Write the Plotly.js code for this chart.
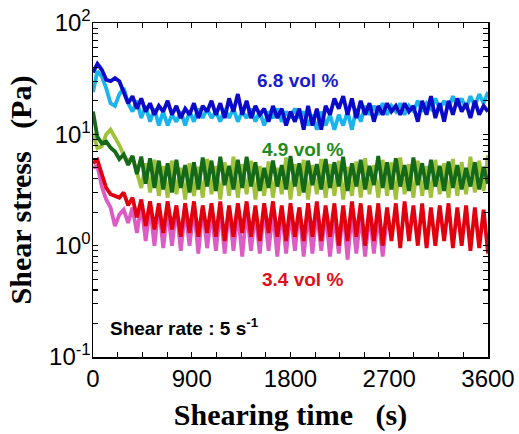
<!DOCTYPE html>
<html>
<head>
<meta charset="utf-8">
<script src="https://cdn.plot.ly/plotly-3.0.1.min.js"></script>
<style>html,body{margin:0;padding:0;background:#fff;}#chart{width:519px;height:434px;}</style>
</head>
<body>
<div id="chart"></div>
<script>
// Shearing time (s)
const time_s = [
0,40,80,120,160,200,240,280,320,360,
400,440,480,520,560,600,640,680,720,760,
800,840,880,920,960,1000,1040,1080,1120,1160,
1200,1240,1280,1320,1360,1400,1440,1480,1520,1560,
1600,1640,1680,1720,1760,1800,1840,1880,1920,1960,
2000,2040,2080,2120,2160,2200,2240,2280,2320,2360,
2400,2440,2480,2520,2560,2600,2640,2680,2720,2760,
2800,2840,2880,2920,2960,3000,3040,3080,3120,3160,
3200,3240,3280,3320,3360,3400,3440,3480,3520,3560,
3600];

// 6.8 vol % (two runs)
const stress_68_dark = [
36,43,38,31,30,32,30,24,19,22,
17,21,16,19,15,18,16,20,15,18,
14,17,15,19,14,18,16,20,15,19,
14,21,16,23,15,20,14,18,15,17,
13,18,14,17,12,16,13,17,11,18,
12,17,11,18,15,21,17,22,15,21,
14,20,15,19,13,18,15,19,16,18,
15,19,16,18,13,20,15,22,14,19,
13,20,15,21,16,19,14,20,15,18,
16];
const stress_68_light = [
24,37,33,26,19,18,23,26,19,16,
20,14,18,13,17,12,16,12,15,13,
16,12,16,13,17,14,17,14,16,13,
17,14,17,13,16,14,17,13,16,12,
16,14,17,13,16,14,17,14,16,12,
15,11,16,12,15,11,15,12,16,11,
17,13,18,15,18,15,19,15,18,16,
19,15,18,16,20,16,19,17,21,17,
20,17,22,18,21,17,22,18,23,19,
24];

// 4.9 vol % (two runs)
const stress_49_dark = [
16,9.5,8.3,8.6,7.6,7.0,6.0,6.6,5.3,6.4,
4.4,6.3,3.6,6.1,3.3,5.8,3.2,5.5,3.0,5.9,
3.3,5.3,3.0,5.6,3.2,6.2,3.4,5.8,3.1,6.3,
3.5,5.2,3.2,5.9,3.3,6.3,3.4,5.6,3.1,5.0,
3.3,5.8,3.4,5.3,3.2,6.4,3.4,5.5,3.0,5.8,
3.5,5.4,3.2,6.0,3.3,5.6,3.4,6.3,3.1,5.5,
3.4,5.9,3.2,5.2,3.5,6.4,3.3,5.6,3.2,6.1,
3.4,5.3,3.1,6.2,3.5,5.5,3.2,5.9,3.4,5.2,
3.1,5.7,3.3,5.3,3.2,5.0,3.4,5.6,3.2,5.1,
3.6];
const stress_49_light = [
10.3,7.5,7.8,10,11,9.5,8.0,6.5,5.7,6.3,
4.5,3.3,5.5,3.0,5.9,2.8,5.2,2.7,5.8,2.9,
5.0,2.6,5.5,2.8,5.1,2.7,6.0,2.9,5.2,2.6,
5.6,2.8,6.3,2.7,5.4,2.9,5.8,2.6,5.2,2.8,
5.7,2.7,5.0,2.9,6.2,2.6,5.4,2.8,5.9,2.6,
5.3,2.9,6.0,2.7,5.4,2.8,5.8,2.6,5.1,2.8,
5.7,2.7,6.1,2.9,5.3,2.7,5.9,2.8,5.6,2.6,
6.2,2.9,5.4,2.7,5.8,2.8,5.2,2.7,5.9,2.9,
5.5,2.7,6.0,2.8,5.6,2.9,6.3,3.0,5.8,3.1,
6.5];

// 3.4 vol % (two runs)
const stress_34_red = [
5.5,5.9,4.4,3.3,2.9,2.8,2.7,3.0,2.3,2.7,
1.8,2.6,1.5,2.5,1.4,2.4,1.3,2.5,1.4,2.3,
1.2,2.4,1.3,2.5,1.2,2.3,1.3,2.4,1.2,2.5,
1.1,2.3,1.2,2.4,1.3,2.5,1.2,2.3,1.1,2.4,
1.3,2.5,1.2,2.3,1.1,2.4,1.2,2.2,1.1,2.4,
1.2,2.5,1.1,2.3,1.2,2.4,1.0,2.3,1.1,2.5,
1.2,2.4,1.0,2.3,1.1,2.4,1.0,2.2,1.1,2.4,
0.95,2.5,1.1,2.3,1.0,2.4,0.95,2.2,1.0,2.3,
1.1,2.4,0.95,2.2,1.0,2.3,0.9,2.2,0.95,2.1,
0.85];
const stress_34_pink = [
5.0,5.2,3.4,2.6,2.2,1.5,1.9,2.1,1.6,2.2,
1.3,2.3,1.1,2.2,1.0,2.3,0.95,2.1,1.0,2.2,
0.9,2.1,1.0,2.2,0.85,2.2,0.95,2.0,0.9,2.1,
0.85,2.2,0.9,2.0,0.8,2.1,0.9,2.0,0.85,2.2,
0.9,2.0,0.8,2.1,0.85,2.0,0.9,2.2,0.8,2.0,
0.85,2.1,0.9,2.0,0.8,1.9,0.85,2.1,0.75,2.0,
0.85,1.9,0.8,2.0,0.85,1.9,0.8,1.8];

const xMajor = [0, 900, 1800, 2700, 3600];
const yMajor = [0.1, 1, 10, 100];
const yMajorText = ['10<sup>-1</sup>', '10<sup>0</sup>', '10<sup>1</sup>', '10<sup>2</sup>'];

// tick positions: majors labelled, minors unlabelled (axis decoration only)
const xTickVals = [], xTickText = [];
for (let t = 0; t <= 3600; t += 225) {
  xTickVals.push(t);
  const i = xMajor.indexOf(t);
  xTickText.push(i >= 0 ? String(xMajor[i]) : '');
}
const yTickVals = [], yTickText = [];
[0.1, 1, 10].forEach((d, j) => {
  yTickVals.push(yMajor[j]); yTickText.push(yMajorText[j]);
  for (let k = 2; k <= 9; k++) { yTickVals.push(k * d); yTickText.push(''); }
});
yTickVals.push(yMajor[3]); yTickText.push(yMajorText[3]);

function tr(y, color) {
  return {x: time_s.slice(0, y.length), y: y, type: 'scatter', mode: 'lines',
          line: {color: color, width: 3.8}, hoverinfo: 'skip'};
}

const data = [
  tr(stress_49_light, '#9fc23a'),
  tr(stress_49_dark, '#146a18'),
  tr(stress_34_pink, '#dc5cc4'),
  tr(stress_34_red, '#e0000e'),
  tr(stress_68_light, '#1ab4ec'),
  tr(stress_68_dark, '#0a0ac8')
];

const axFont = {family: 'Liberation Sans, Arial, sans-serif', size: 24, color: '#000'};
const titleFont = {family: 'Liberation Serif, Times New Roman, serif', size: 30, color: '#000'};
const annFont = (c) => ({family: 'Liberation Sans, Arial, sans-serif', size: 19, color: c});

const layout = {
  width: 519, height: 434,
  margin: {l: 93, r: 31, t: 23, b: 77},
  paper_bgcolor: '#fff', plot_bgcolor: '#fff',
  showlegend: false,
  xaxis: {
    range: [0, 3600], tickmode: 'array', tickvals: xTickVals, ticktext: xTickText,
    ticks: 'inside', ticklen: 5, tickwidth: 1.1, tickcolor: '#000',
    showline: true, linewidth: 1.5, linecolor: '#000', mirror: 'ticks',
    showgrid: false, zeroline: false, tickfont: axFont, automargin: false,
    title: {text: '<b>Shearing time\u00a0\u00a0\u00a0(s)</b>', font: titleFont, standoff: 12}
  },
  yaxis: {
    type: 'log', range: [-1, 2], tickmode: 'array', tickvals: yTickVals, ticktext: yTickText,
    ticks: 'inside', ticklen: 5, tickwidth: 1.1, tickcolor: '#000',
    showline: true, linewidth: 1.5, linecolor: '#000', mirror: 'ticks',
    showgrid: false, zeroline: false, tickfont: axFont, automargin: false,
    ticklabelstandoff: -4,
    title: {text: '<b>Shear stress\u00a0\u00a0\u00a0(Pa)</b>', font: titleFont, standoff: 8}
  },
  annotations: [
    {xref: 'x', yref: 'y', x: 1868, y: 1.488, text: '<b>6.8 vol %</b>', showarrow: false, font: annFont('#1a1acc')},
    {xref: 'x', yref: 'y', x: 1905, y: 0.868, text: '<b>4.9 vol %</b>', showarrow: false, font: annFont('#1e8c1e')},
    {xref: 'x', yref: 'y', x: 1905, y: -0.300, text: '<b>3.4 vol %</b>', showarrow: false, font: annFont('#e0101a')},
    {xref: 'x', yref: 'y', x: 137, y: -0.731, xanchor: 'left', text: '<b>Shear rate : 5 s<sup>-1</sup></b>', showarrow: false, font: annFont('#000')}
  ]
};

Plotly.newPlot('chart', data, layout, {staticPlot: true, displayModeBar: false});
</script>
</body>
</html>
